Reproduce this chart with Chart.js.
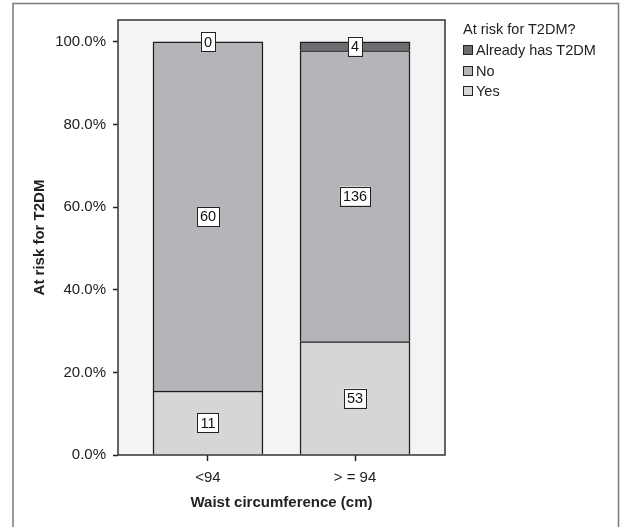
<!DOCTYPE html>
<html>
<head>
<meta charset="utf-8">
<title>At risk for T2DM by waist circumference</title>
<script src="https://cdn.jsdelivr.net/npm/chart.js@4"></script>
<style>
  html, body { margin: 0; padding: 0; background: #fff; }
  #wrap { position: relative; width: 621px; height: 527px; font-family: "Liberation Sans", Arial, sans-serif; }
  #legend { position: absolute; left: 463px; top: 21px; color: #222; font-size: 14.5px; }
  #legend .title { margin-bottom: 3px; }
  #legend .item { display: flex; align-items: center; height: 20.5px; }
  #legend .box { width: 10px; height: 10px; border: 1px solid #222; margin-right: 3px; box-sizing: border-box; }
</style>
</head>
<body>
<div id="wrap">
  <canvas id="riskChart" width="621" height="527"></canvas>
  <div id="legend"></div>
</div>
<script>
// categories (waist circumference, cm)
const categories = ['<94', '> = 94'];

// counts per group
const yesCounts = [11, 53];
const noCounts = [60, 136];
const alreadyCounts = [0, 4];

const yTicks = [0, 20, 40, 60, 80, 100];

const seriesNames = ['Yes', 'No', 'Already has T2DM'];
const seriesColors = ['#d5d6d8', '#b4b5b9', '#6c6d71'];

// turn counts into column percentages
const totals = categories.map((c, i) => yesCounts[i] + noCounts[i] + alreadyCounts[i]);
function toPct(counts) {
  return counts.map((v, i) => ({ x: i, y: v / totals[i] * 100, n: v }));
}

const allCounts = [yesCounts, noCounts, alreadyCounts];
const datasets = allCounts.map((counts, k) => ({
  label: seriesNames[k],
  data: toPct(counts),
  backgroundColor: seriesColors[k],
  borderColor: '#1e1e1e',
  // no bottom edge, so stacked segments share one line
  borderWidth: { top: 1.5, left: 1.5, right: 1.5, bottom: 0 },
  borderSkipped: false,
  barThickness: 110
}));

// frame around the whole figure + grey plot background
const framePlugin = {
  id: 'frame',
  beforeDraw(chart) {
    const ctx = chart.ctx;
    ctx.save();
    ctx.strokeStyle = '#7a7a7a';
    ctx.lineWidth = 1.5;
    ctx.strokeRect(13, 3.5, 605.5, 540);
    ctx.restore();
  },
  beforeDatasetsDraw(chart) {
    const a = chart.chartArea;
    const ctx = chart.ctx;
    ctx.save();
    ctx.fillStyle = '#f4f4f4';
    ctx.fillRect(a.left, a.top, a.right - a.left, a.bottom - a.top);
    ctx.restore();
  },
  afterDatasetsDraw(chart) {
    const a = chart.chartArea;
    const ctx = chart.ctx;
    ctx.save();
    ctx.strokeStyle = '#333';
    ctx.lineWidth = 1.5;
    ctx.strokeRect(a.left, a.top, a.right - a.left, a.bottom - a.top);

    // count labels in white boxes
    ctx.font = '14.5px "Liberation Sans", Arial, sans-serif';
    ctx.textAlign = 'center';
    ctx.textBaseline = 'middle';
    chart.data.datasets.forEach((ds, di) => {
      chart.getDatasetMeta(di).data.forEach((bar, i) => {
        const txt = String(ds.data[i].n);
        const cx = bar.x;
        const cy = (bar.y + bar.base) / 2;
        const w = ctx.measureText(txt).width + 6;
        const h = 19;
        ctx.fillStyle = '#fff';
        ctx.fillRect(cx - w / 2, cy - h / 2, w, h);
        ctx.strokeStyle = '#222';
        ctx.lineWidth = 1;
        ctx.strokeRect(Math.round(cx - w / 2) + 0.5, Math.round(cy - h / 2) + 0.5, Math.round(w), h);
        ctx.fillStyle = '#111';
        ctx.fillText(txt, cx, cy + 1);
      });
    });
    ctx.restore();
  }
};

const tickFont = { family: '"Liberation Sans", Arial, sans-serif', size: 15 };
const titleFont = { family: '"Liberation Sans", Arial, sans-serif', size: 15, weight: 'bold' };

new Chart(document.getElementById('riskChart'), {
  type: 'bar',
  data: { datasets: datasets },
  plugins: [framePlugin],
  options: {
    responsive: false,
    animation: false,
    layout: { padding: { left: 0, right: 176, top: 20, bottom: 0 } },
    plugins: { legend: { display: false }, tooltip: { enabled: false } },
    scales: {
      x: {
        type: 'linear',
        stacked: true,
        offset: false,
        min: -0.612,
        max: 1.612,
        afterBuildTicks(scale) { scale.ticks = categories.map((c, i) => ({ value: i })); },
        afterFit(scale) { scale.height = 72; },
        border: { display: false },
        grid: { offset: false, drawOnChartArea: false, tickLength: 6, tickColor: '#222', tickWidth: 1.5 },
        ticks: {
          color: '#222',
          font: tickFont,
          padding: 8,
          maxRotation: 0,
          callback: (v) => categories[v]
        },
        title: { display: true, text: 'Waist circumference (cm)', color: '#222', font: titleFont, padding: { top: 0, bottom: 15 } }
      },
      y: {
        stacked: true,
        min: 0,
        max: 105.3,
        afterBuildTicks(scale) { scale.ticks = yTicks.map(v => ({ value: v })); },
        afterFit(scale) { scale.width = 118; },
        border: { display: false },
        grid: { drawOnChartArea: false, tickLength: 5, tickColor: '#222', tickWidth: 1.5 },
        ticks: {
          color: '#222',
          font: tickFont,
          padding: 7,
          callback: (v) => v.toFixed(1) + '%'
        },
        title: { display: true, text: 'At risk for T2DM', color: '#222', font: titleFont, padding: { top: 31, bottom: 0 } }
      }
    }
  }
});

// legend, top series first
const legend = document.getElementById('legend');
legend.innerHTML = '<div class="title">At risk for T2DM?</div>' +
  seriesNames.map((n, k) => ({ n, c: seriesColors[k] })).reverse()
    .map(s => '<div class="item"><span class="box" style="background:' + s.c + '"></span>' + s.n + '</div>').join('');
</script>
</body>
</html>
